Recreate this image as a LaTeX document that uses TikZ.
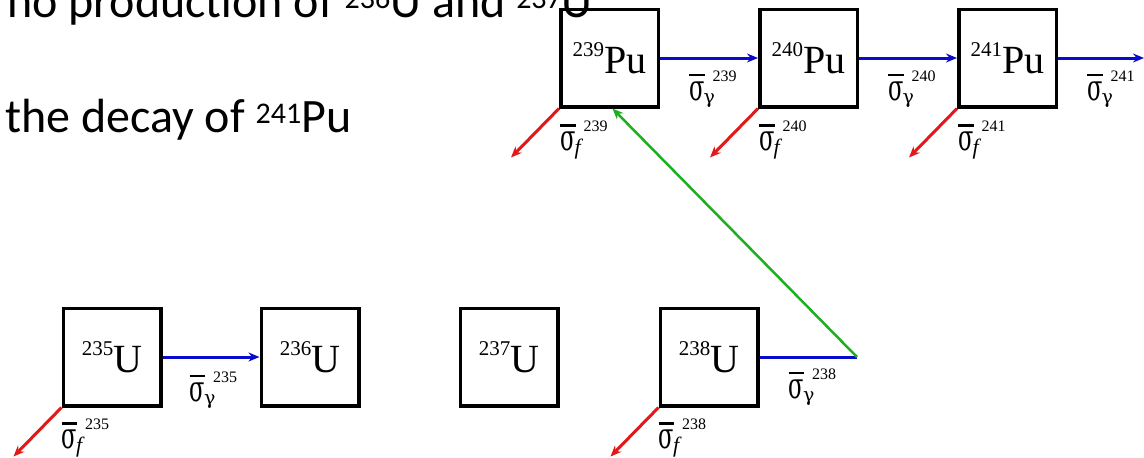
\documentclass[tikz,border=0pt]{standalone}
\usepackage{fontspec}
\usepackage{graphicx}
\setmainfont{Liberation Serif}
\newfontfamily\calfont{Carlito}
\newfontfamily\grk{DejaVu Serif}
\usetikzlibrary{arrows.meta}
\definecolor{cblue}{RGB}{10,10,205}
\definecolor{cred}{RGB}{225,25,25}
\definecolor{cgreen}{RGB}{30,175,30}
\newsavebox\sgbox
% \sgm{subscript}{lowering}{superscript}
\newcommand\sgm[3]{\fontsize{30}{30}\selectfont
  \sbox\sgbox{\scalebox{0.75}[1.2]{\grk σ}}%
  \rlap{\rule[24pt]{\wd\sgbox}{2.2pt}}\usebox\sgbox\kern-1pt
  \rlap{\raisebox{#2}{\fontsize{19}{19}\selectfont #1}}\kern9pt
  \raisebox{19pt}{\fontsize{16}{16}\selectfont #3}}
\newcommand\iso[2]{\raisebox{17pt}{\fontsize{21}{21}\selectfont #1}\fontsize{40}{40}\selectfont #2}
\newcommand\supt[1]{\raisebox{9pt}{\fontsize{30}{30}\selectfont #1}}
\begin{document}
\begin{tikzpicture}[x=1pt,y=-1pt,
  nuc/.style={draw=black, line width=3.5pt, minimum width=97.5pt, minimum height=97.5pt, inner sep=0pt},
  gam/.style={draw=cblue, line width=3pt, -{Stealth[length=11pt,width=9pt]}},
  gamline/.style={draw=cblue, line width=3pt},
  fis/.style={draw=cred, line width=3pt, -{Stealth[length=11pt,width=9pt]}},
  brd/.style={draw=cgreen, line width=2.5pt, -{Stealth[length=11pt,width=9pt]}},
  lab/.style={inner sep=0pt, anchor=base west},
  txt/.style={inner sep=0pt, anchor=base west, font=\calfont\fontsize{48}{48}\selectfont}]
\useasboundingbox (0,0) rectangle (1144,458);

% top-left text
\node[txt] (t1) at (7,17) {no production of \supt{236}U and \supt{237}U};
\node[txt] (t2) at (5,132) {the decay of \supt{241}Pu};

% nuclide boxes
\node[nuc] (p239) at (609.5,58) {\iso{239}{Pu}};
\node[nuc] (p240) at (808.5,58) {\iso{240}{Pu}};
\node[nuc] (p241) at (1007.5,58) {\iso{241}{Pu}};
\node[nuc] (u235) at (112,357) {\iso{235}{U}};
\node[nuc] (u236) at (310,357) {\iso{236}{U}};
\node[nuc] (u237) at (509,357) {\iso{237}{U}};
\node[nuc] (u238) at (709,357) {\iso{238}{U}};

% free ends
\coordinate (g241) at (1144,58);
\coordinate (c238) at (857,357);
\foreach \n in {p239,p240,p241,u235,u238}
  \coordinate (f\n) at ([shift={(-48,49)}]\n.south west);

% capture arrows
\draw[gam] (p239.east) -- (p240.west);
\draw[gam] (p240.east) -- (p241.west);
\draw[gam] (p241.east) -- (g241);
\draw[gam] (u235.east) -- (u236.west);
\draw[gamline] (u238.east) -- (c238);
\draw[brd] (c238) -- ([xshift=3pt]p239.south);

% fission arrows
\foreach \n in {p239,p240,p241,u235,u238}
  \draw[fis] (\n.south west) -- (f\n);

% capture labels
\node[lab] (lg239) at ([shift={(29,42)}]p239.east) {\sgm{\grk γ}{-3pt}{239}};
\node[lab] (lg240) at ([shift={(29,42)}]p240.east) {\sgm{\grk γ}{-3pt}{240}};
\node[lab] (lg241) at ([shift={(29,42)}]p241.east) {\sgm{\grk γ}{-3pt}{241}};
\node[lab] (lg235) at ([shift={(27,44)}]u235.east) {\sgm{\grk γ}{-3pt}{235}};
\node[lab] (lg238) at ([shift={(29,41)}]u238.east) {\sgm{\grk γ}{-3pt}{238}};

% fission labels
\node[lab] (lf239) at ([shift={(1,42)}]p239.south west) {\sgm{\fontsize{22}{22}\selectfont\textit{f}}{-4pt}{239}};
\node[lab] (lf240) at ([shift={(1,42)}]p240.south west) {\sgm{\fontsize{22}{22}\selectfont\textit{f}}{-4pt}{240}};
\node[lab] (lf241) at ([shift={(1,42)}]p241.south west) {\sgm{\fontsize{22}{22}\selectfont\textit{f}}{-4pt}{241}};
\node[lab] (lf235) at ([shift={(0,41)}]u235.south west) {\sgm{\fontsize{22}{22}\selectfont\textit{f}}{-4pt}{235}};
\node[lab] (lf238) at ([shift={(0,41)}]u238.south west) {\sgm{\fontsize{22}{22}\selectfont\textit{f}}{-4pt}{238}};
\end{tikzpicture}
\end{document}
